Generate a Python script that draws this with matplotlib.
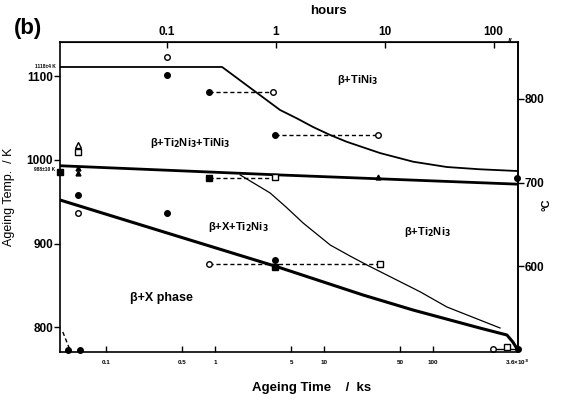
import numpy as np
import matplotlib
matplotlib.use("Agg")
import matplotlib.pyplot as plt

plt.rcParams['font.family'] = ['Liberation Sans', 'DejaVu Sans']
plt.rcParams['font.weight'] = 'bold'

### Boundary curves (time in ks, temperature in K)
tini3_t = [0.038, 1.16, 3.95, 5.62, 7.93, 11.4, 16.1, 32.6, 65.9, 134, 268, 600]
tini3_K = [1111, 1111, 1059.6, 1049.7, 1039.3, 1029.7, 1021.7, 1008.2, 997.8, 991.5, 988.8, 986.7]

transus_t = [0.038, 3.95, 600]
transus_K = [993, 982, 971]

x_t = [0.038, 0.363, 3.70, 22.8, 65.4, 268, 477, 540, 600]
x_K = [952, 912.7, 872.4, 838.6, 820.7, 799.2, 790.8, 782.4, 772.9]

thin_t = [1.70, 3.20, 4.48, 6.43, 11.4, 17.3, 24.8, 76.0, 134, 412]
thin_K = [982, 960.5, 943.7, 924.6, 898.3, 885.2, 874.4, 842.5, 824.3, 799.2]

### Dashed isothermal runs
dash_runs = [
    ([0.881, 3.40], [1081.5, 1081.5]),
    ([3.55, 31.3], [1029.7, 1029.7]),
    ([0.881, 3.55], [978, 978]),
    ([0.881, 32.6], [875.6, 875.6]),
    ([0.0401, 0.0466], [794.4, 773]),
]

### Experimental points
open_circ_t = [0.363, 0.0553, 3.40, 31.3, 0.881, 356]
open_circ_K = [1123, 936.6, 1081.5, 1029.7, 875.6, 774.1]
fill_circ_t = [0.363, 0.881, 3.55, 0.0553, 0.363, 3.55, 590, 600, 0.0446, 0.058]
fill_circ_K = [1101.4, 1081.5, 1029.7, 958, 936.6, 880.4, 978.4, 774, 773, 773]
fill_sq_t = [0.038, 0.881, 3.55]
fill_sq_K = [985.5, 978, 872]
open_sq_t = [3.55, 32.6, 0.0553, 477]
open_sq_K = [979, 875.6, 1009.4, 776]
open_tri_t = [0.0553]
open_tri_K = [1017.8]
fill_tri_t = [0.0553, 0.0553, 31.3]
fill_tri_K = [990, 984, 979.6]

bottom_ticks = [0.1, 0.5, 1, 5, 10, 50, 100]
bottom_labels = ['0.1', '0.5', '1', '5', '10', '50', '100']
top_ticks = [0.1, 1, 10, 100]
left_ticks = [800, 900, 1000, 1100]
right_ticks = [600, 700, 800]

fig = plt.figure(figsize=(5.61, 4.01), dpi=100)
ax = fig.add_axes([0.107, 0.123, 0.8155, 0.773])
ax.set_xscale('log')
ax.set_xlim(0.0378, 596)
ax.set_ylim(770.9, 1141.2)

ax.plot(tini3_t, tini3_K, color='black', lw=1.3)
ax.plot(transus_t, transus_K, color='black', lw=2.0)
ax.plot(x_t, x_K, color='black', lw=2.2)
ax.plot(thin_t, thin_K, color='black', lw=0.9)
for tt, kk in dash_runs:
    ax.plot(tt, kk, color='black', lw=1.0, ls=(0, (3, 2)))
ax.plot([356, 596], [774, 774], color='black', lw=1.0)

ax.plot(open_circ_t, open_circ_K, 'o', mfc='white', mec='black', ms=4, mew=1.0, clip_on=False)
ax.plot(fill_circ_t, fill_circ_K, 'o', color='black', ms=4, clip_on=False)
ax.plot(fill_sq_t, fill_sq_K, 's', color='black', ms=4, clip_on=False)
ax.plot(open_sq_t, open_sq_K, 's', mfc='white', mec='black', ms=4, mew=1.0, clip_on=False)
ax.plot(open_tri_t, open_tri_K, '^', mfc='white', mec='black', ms=4, mew=1.0, clip_on=False)
ax.plot(fill_tri_t, fill_tri_K, '^', color='black', ms=3.5, clip_on=False)

### Phase field labels
ax.text(20.1, 1095.5, 'β+TiNi$_3$', fontsize=8, ha='center', va='center')
ax.text(0.59, 1020, 'β+Ti$_2$Ni$_3$+TiNi$_3$', fontsize=8, ha='center', va='center')
ax.text(1.63, 919.8, 'β+X+Ti$_2$Ni$_3$', fontsize=8, ha='center', va='center')
ax.text(88, 913.9, 'β+Ti$_2$Ni$_3$', fontsize=8, ha='center', va='center')
ax.text(0.32, 835, 'β+X phase', fontsize=9, ha='center', va='center')

for sp in ax.spines.values():
    sp.set_linewidth(1.2)

ax.set_xticks(bottom_ticks)
ax.set_xticklabels(bottom_labels, fontsize=4.5)
ax.xaxis.set_minor_locator(plt.NullLocator())
ax.tick_params(axis='x', direction='in', length=4, width=1, pad=6)
ax.set_yticks(left_ticks)
ax.set_yticklabels([str(v) for v in left_ticks], fontsize=8.5)
ax.tick_params(axis='y', direction='out', length=4, width=1, pad=1)

top = ax.secondary_xaxis('top', functions=(lambda t: t / 3.6, lambda h: h * 3.6))
top.set_xticks(top_ticks)
top.set_xticklabels(['0.1', '1', '10', '100'], fontsize=8.5)
top.xaxis.set_minor_locator(plt.NullLocator())
top.tick_params(direction='in', length=4, width=1, pad=3)

right = ax.secondary_yaxis('right', functions=(lambda k: k - 273, lambda c: c + 273))
right.set_yticks(right_ticks)
right.set_yticklabels([str(v) for v in right_ticks], fontsize=8.5)
right.tick_params(direction='out', length=4, width=1, pad=1)
right.spines['right'].set_linewidth(1.2)

ax.set_ylabel('Ageing Temp.  / K', fontsize=9, labelpad=8)
fig.text(0.555, 0.032, 'Ageing Time    /  ks', fontsize=9.5, ha='center', va='center')
fig.text(0.586, 0.972, 'hours', fontsize=9.5, ha='center', va='center')
fig.text(0.05, 0.93, '(b)', fontsize=16, ha='center', va='center')
fig.text(0.975, 0.49, '°C', fontsize=8, rotation=90, ha='center', va='center')

### small annotations
ax.text(-0.01, 1112, '1118±4 K', transform=ax.get_yaxis_transform(), fontsize=3.5, ha='right', va='center')
ax.text(-0.01, 988, '988±10 K', transform=ax.get_yaxis_transform(), fontsize=3.5, ha='right', va='center')
ax.text(1.0, -0.035, '3.6×10$^3$', transform=ax.transAxes, fontsize=4.5, ha='center', va='center')
ax.text(0.985, 1.0, '//', transform=ax.transAxes, fontsize=6, ha='center', va='center')

fig.savefig('out.png', dpi=100)
